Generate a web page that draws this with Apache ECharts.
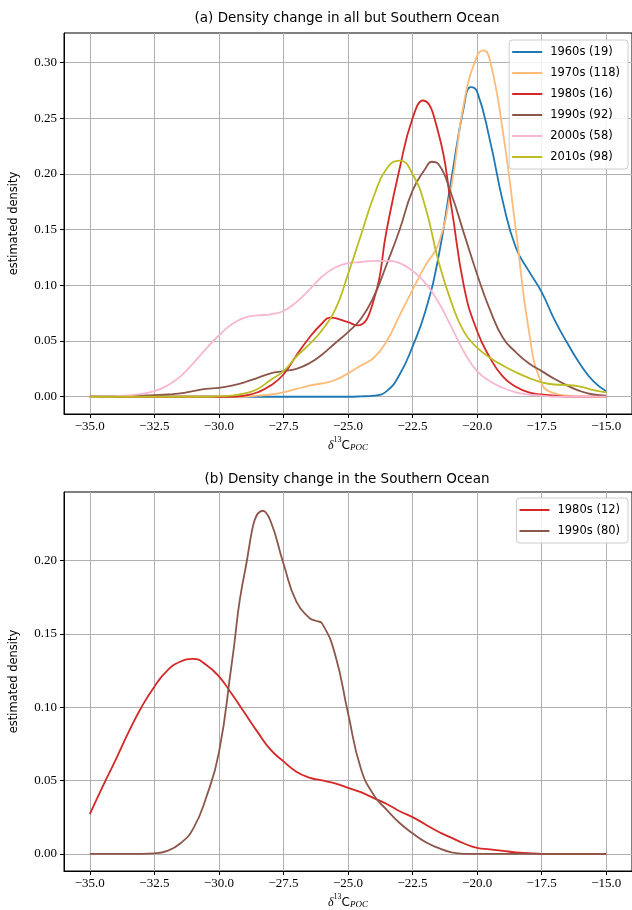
<!DOCTYPE html>
<html>
<head>
<meta charset="utf-8">
<script src="https://cdn.jsdelivr.net/npm/echarts@6/dist/echarts.min.js"></script>
<style>
  html, body { margin: 0; padding: 0; background: #fff; }
  #chart { width: 632px; height: 910px; }
</style>
</head>
<body>
<div id="chart"></div>
<script>
// x grid shared by all curves (delta13C POC), step 0.5
var xGrid = [];
for (var i = 0; i <= 40; i++) xGrid.push(-35 + i * 0.5);

// (a) all but Southern Ocean, estimated density
var d1960 = [0,0,0,0,0,0,0,0,0,0, 0,0,0,0,0,0,0,0,0,0,
    0,0.0003,0.001,0.005,0.02,0.045,0.077,0.125,0.195,0.262,
    0.274,0.23,0.175,0.134,0.113,0.094,0.069,0.048,0.029,0.014, 0.005];
var d1970 = [0,0,0,0,0,0,0,0,0,0, 0,0,0,0.001,0.002,0.004,0.007,0.01,0.012,0.015,
    0.021,0.028,0.035,0.05,0.073,0.096,0.118,0.137,0.188,0.265,
    0.306,0.302,0.238,0.15,0.06,0.012,0.003,0.001,0,0, 0];
var d1980 = [0,0,0,0,0,0,0,0,0,0, 0,0,0.001,0.004,0.01,0.02,0.037,0.053,0.066,0.071,
    0.067,0.065,0.087,0.15,0.205,0.25,0.264,0.237,0.171,0.098,
    0.059,0.035,0.018,0.009,0.004,0.002,0.001,0,0,0, 0];
var d1990 = [0,0,0.0003,0.0006,0.001,0.0015,0.002,0.003,0.005,0.007,
    0.008,0.01,0.013,0.017,0.021,0.023,0.025,0.03,0.038,0.048,
    0.058,0.07,0.09,0.119,0.15,0.185,0.205,0.209,0.182,0.146,
    0.11,0.078,0.053,0.04,0.03,0.023,0.016,0.01,0.005,0.002, 0.001];
var d2000 = [0,0.0003,0.0006,0.0012,0.0025,0.005,0.01,0.018,0.03,0.043,
    0.055,0.065,0.071,0.073,0.074,0.077,0.085,0.096,0.108,0.116,
    0.12,0.121,0.122,0.122,0.12,0.113,0.102,0.085,0.063,0.04,
    0.023,0.014,0.008,0.004,0.002,0.001,0,0,0,0, 0];
var d2010 = [0,0,0,0,0,0,0,0,0,0,
    0.0005,0.001,0.003,0.007,0.015,0.023,0.036,0.047,0.06,0.078,
    0.11,0.145,0.18,0.205,0.212,0.2,0.17,0.122,0.085,0.058,
    0.044,0.035,0.028,0.022,0.017,0.013,0.011,0.0105,0.009,0.006, 0.004];

// extra [x, y] points at peaks and dips, between grid steps
var peaks1960 = [[-20.25, 0.278]];
var peaks1970 = [[-19.75, 0.311]];
var peaks1980 = [[-25.7, 0.071], [-24.65, 0.064], [-22.1, 0.266]];
var peaks1990 = [[-21.75, 0.211]];
var peaks2000 = [];
var peaks2010 = [];

// (b) Southern Ocean
var so1980 = [0.027,0.046,0.064,0.083,0.1,0.114,0.125,0.131,0.133,0.129,
    0.121,0.109,0.096,0.083,0.071,0.063,0.056,0.052,0.05,0.048,
    0.045,0.042,0.038,0.034,0.029,0.025,0.02,0.015,0.011,0.007,
    0.004,0.003,0.002,0.001,0.0005,0,0,0,0,0, 0];
var so1990 = [0,0,0,0,0,0.0003,0.002,0.007,0.017,0.038,
    0.069,0.13,0.192,0.229,0.227,0.198,0.172,0.161,0.157,0.136,
    0.096,0.058,0.04,0.03,0.021,0.014,0.008,0.004,0.001,0,
    0,0,0,0,0,0,0,0,0,0, 0];
var peaksSo1980 = [];
var peaksSo1990 = [[-28.3, 0.234], [-26.25, 0.159]];

var namesA = ['1960s (19)', '1970s (118)', '1980s (16)', '1990s (92)', '2000s (58)', '2010s (98)'];
var valuesA = [d1960, d1970, d1980, d1990, d2000, d2010];
var extrasA = [peaks1960, peaks1970, peaks1980, peaks1990, peaks2000, peaks2010];
var colorsA = ['#1f77b4', '#ffbb78', '#d62728', '#8c564b', '#f7b6d2', '#bcbd22'];
var namesB = ['1980s (12)', '1990s (80)'];
var valuesB = [so1980, so1990];
var extrasB = [peaksSo1980, peaksSo1990];
var colorsB = ['#d62728', '#8c564b'];

var chart = echarts.init(document.getElementById('chart'), null, {renderer: 'canvas'});

var serifFont = '"Liberation Serif", "DejaVu Serif", serif';
var sansFont = '"DejaVu Sans", sans-serif';

function pairs(vals, extra) {
    var pts = xGrid.map(function (x, k) { return [x, vals[k]]; });
    // peak points replace the neighbouring grid point closest to them
    extra.forEach(function (p) {
        pts = pts.filter(function (q) { return Math.abs(q[0] - p[0]) > 0.2; });
        pts.push(p);
    });
    pts.sort(function (a, b) { return a[0] - b[0]; });
    return pts;
}

function minus(s) { return s.replace('-', '\u2212'); }

function xAxisFor(idx) {
    return {
        gridIndex: idx, type: 'value', min: -36, max: -14,
        minInterval: 2.5, maxInterval: 2.5,
        name: '{d|\u03b4}{s|13}{c|C}{p|POC}',
        nameLocation: 'middle', nameGap: 22,
        nameTextStyle: {
            rich: {
                d: {fontFamily: serifFont, fontStyle: 'italic', fontSize: 12, color: '#000', verticalAlign: 'bottom', lineHeight: 16},
                s: {fontFamily: serifFont, fontSize: 8, color: '#000', verticalAlign: 'top', lineHeight: 16},
                c: {fontFamily: sansFont, fontSize: 12, color: '#000', verticalAlign: 'bottom', lineHeight: 16},
                p: {fontFamily: serifFont, fontStyle: 'italic', fontSize: 9, color: '#000', verticalAlign: 'bottom', lineHeight: 11}
            }
        },
        axisLine: {show: true, onZero: false, lineStyle: {color: '#000', width: 1}},
        axisTick: {show: true, inside: false, length: 4, lineStyle: {color: '#000'}},
        axisLabel: {
            show: true, margin: 6, showMinLabel: false, showMaxLabel: false,
            fontFamily: serifFont, fontSize: 13, color: '#000',
            formatter: function (v) { return minus(v.toFixed(1)); }
        },
        splitLine: {show: true, showMinLine: false, showMaxLine: false, lineStyle: {color: '#b0b0b0', width: 1}}
    };
}

function yAxisFor(idx, lo, hi) {
    return {
        gridIndex: idx, type: 'value', min: lo, max: hi,
        minInterval: 0.05, maxInterval: 0.05,
        name: 'estimated density', nameLocation: 'middle', nameGap: 44, nameRotate: 90,
        nameTextStyle: {fontFamily: sansFont, fontSize: 11.5, color: '#000'},
        axisLine: {show: true, onZero: false, lineStyle: {color: '#000', width: 1}},
        axisTick: {show: true, inside: false, length: 4, lineStyle: {color: '#000'}},
        axisLabel: {
            show: true, margin: 7, showMinLabel: false, showMaxLabel: false,
            fontFamily: serifFont, fontSize: 13, color: '#000',
            formatter: function (v) { return minus(v.toFixed(2)); }
        },
        splitLine: {show: true, showMinLine: false, showMaxLine: false, lineStyle: {color: '#b0b0b0', width: 1}}
    };
}

var series = [];
namesA.forEach(function (n, k) {
    series.push({
        name: n, type: 'line', xAxisIndex: 0, yAxisIndex: 0,
        data: pairs(valuesA[k], extrasA[k]), showSymbol: false, symbol: 'none',
        smooth: 0.5, color: colorsA[k],
        lineStyle: {width: 1.8, color: colorsA[k]}
    });
});
namesB.forEach(function (n, k) {
    series.push({
        name: 'SO ' + n, type: 'line', xAxisIndex: 1, yAxisIndex: 1,
        data: pairs(valuesB[k], extrasB[k]), showSymbol: false, symbol: 'none',
        smooth: 0.5, color: colorsB[k],
        lineStyle: {width: 1.8, color: colorsB[k]}
    });
});

var legendBase = {
    orient: 'vertical', right: 4,
    icon: 'rect', itemWidth: 30, itemHeight: 2, itemGap: 7,
    padding: [5, 8, 5, 3],
    backgroundColor: 'rgba(255,255,255,0.85)',
    borderColor: '#cccccc', borderWidth: 1, borderRadius: 3,
    textStyle: {fontFamily: sansFont, fontSize: 11.5, color: '#000', lineHeight: 14, padding: [0, 0, 0, 3]},
    selectedMode: false
};

chart.setOption({
    animation: false,
    backgroundColor: '#fff',
    graphic: [
        {type: 'text', x: 347, y: 18, style: {text: '(a) Density change in all but Southern Ocean', font: '13.5px ' + sansFont, fill: '#000', align: 'center', verticalAlign: 'middle'}},
        {type: 'text', x: 347, y: 479, style: {text: '(b) Density change in the Southern Ocean', font: '13.5px ' + sansFont, fill: '#000', align: 'center', verticalAlign: 'middle'}}
    ],
    grid: [
        {left: 62, top: 33, width: 573, height: 381, show: true, borderColor: '#000', borderWidth: 1, backgroundColor: 'transparent'},
        {left: 62, top: 492, width: 573, height: 382, show: true, borderColor: '#000', borderWidth: 1, backgroundColor: 'transparent'}
    ],
    xAxis: [xAxisFor(0), xAxisFor(1)],
    yAxis: [yAxisFor(0, -0.0155, 0.3266), yAxisFor(1, -0.01175, 0.2468)],
    legend: [
        Object.assign({}, legendBase, {top: 40, data: namesA}),
        Object.assign({}, legendBase, {top: 498, data: namesB.map(function (n) { return 'SO ' + n; }),
            formatter: function (n) { return n.replace('SO ', ''); }})
    ],
    series: series
});
</script>
</body>
</html>
